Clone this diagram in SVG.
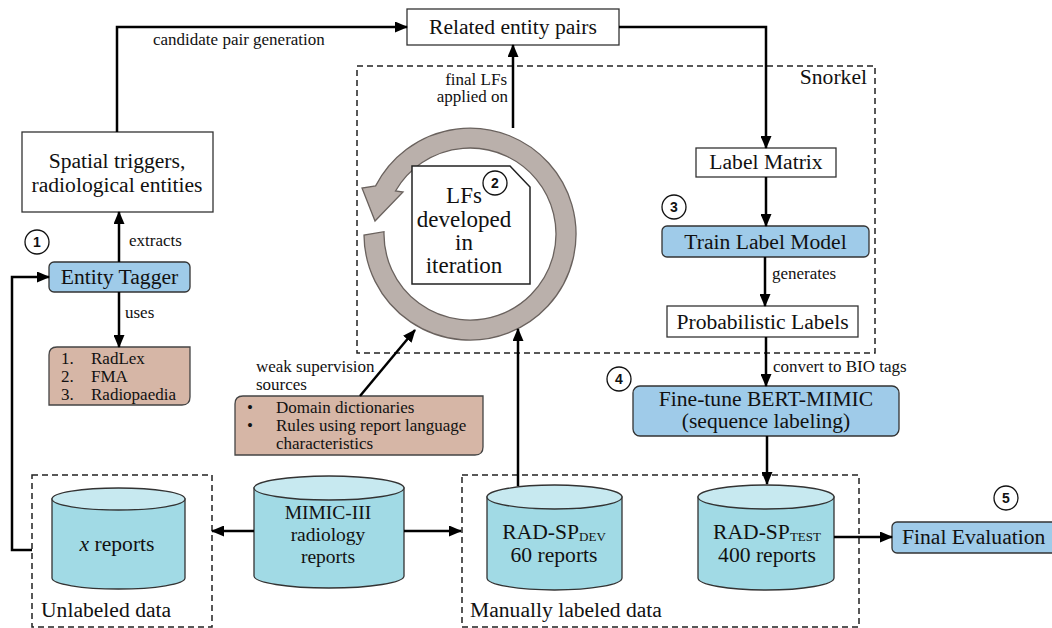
<svg xmlns="http://www.w3.org/2000/svg" width="1052" height="628" viewBox="0 0 1052 628">
<defs>
<marker id="ah" markerWidth="13" markerHeight="11" refX="12" refY="5.5" orient="auto" markerUnits="userSpaceOnUse">
<path d="M0,0 L13,5.5 L0,11 Z" fill="#000"/>
</marker>
<style>
text{font-family:"Liberation Serif","Times New Roman",serif;fill:#111}
.big{font-size:21.6px}
.sm{font-size:17px}
.mid{text-anchor:middle}
.box{fill:#fff;stroke:#333;stroke-width:1.3}
.blue{fill:#9fcbe9;stroke:#333;stroke-width:1.3}
.brown{fill:#d6b6a6;stroke:#444;stroke-width:1.3}
.dash{fill:none;stroke:#222;stroke-width:1.5;stroke-dasharray:6,4}
.cylb{fill:#a1dae5;stroke:#333;stroke-width:1.3}
.cylt{fill:#c7e9f0;stroke:#333;stroke-width:1.3}
.num{fill:#fff;stroke:#111;stroke-width:1.3}
.numt{font-family:"Liberation Sans",Arial,sans-serif;font-weight:bold;font-size:14px;text-anchor:middle}
.conn path{fill:none;stroke:#000;stroke-width:2.5;marker-end:url(#ah)}
</style>
</defs>
<rect width="1052" height="628" fill="#fff"/>

<g id="snorkel-group">
<rect class="dash" x="357" y="66" width="518" height="287"/>
<text class="big" x="867" y="84" text-anchor="end">Snorkel</text>
</g>
<g id="unlabeled-group">
<rect class="dash" x="32" y="475" width="180" height="152"/>
<text class="big" x="41" y="617">Unlabeled data</text>
</g>
<g id="manual-group">
<rect class="dash" x="462" y="475" width="397" height="152"/>
<text class="big" x="470" y="617">Manually labeled data</text>
</g>

<g id="related-pairs">
<rect class="box" x="407" y="9" width="212" height="36"/>
<text class="big mid" x="513" y="34">Related entity pairs</text>
</g>

<g id="spatial-triggers">
<rect class="box" x="22" y="132" width="191" height="80"/>
<text class="big mid" x="117" y="168">Spatial triggers,</text>
<text class="big mid" x="117" y="192">radiological entities</text>
</g>

<g id="entity-tagger">
<rect class="blue" x="49" y="262" width="141" height="30" rx="5"/>
<text class="big mid" x="119.5" y="284">Entity Tagger</text>
</g>

<g id="num1"><circle class="num" cx="37" cy="242" r="12"/><text class="numt" x="37" y="247">1</text></g>

<g id="lexicons">
<path class="brown" d="M57,347 H190 V397 Q190,405 182,405 H49 V355 Q49,347 57,347 Z"/>
<text class="sm" x="61" y="364">1.</text><text class="sm" x="91" y="364">RadLex</text>
<text class="sm" x="61" y="382">2.</text><text class="sm" x="91" y="382">FMA</text>
<text class="sm" x="61" y="400">3.</text><text class="sm" x="91" y="400">Radiopaedia</text>
</g>

<g id="weak-sources">
<path class="brown" d="M243,396 H483 V447 Q483,455 475,455 H235 V404 Q235,396 243,396 Z"/>
<text class="sm" x="247" y="413">•</text><text class="sm" x="276" y="413">Domain dictionaries</text>
<text class="sm" x="247" y="431">•</text><text class="sm" x="276" y="431">Rules using report language</text>
<text class="sm" x="276" y="449">characteristics</text>
</g>

<g id="lf-cycle">
<path d="M364,235 A106,106 0 1 0 375.6,185.9 L362,188 L375,221 L403,192 L395.5,191 A86,86 0 1 1 384,231.7 Z" fill="#bab0ab" stroke="#6a625e" stroke-width="1.3"/>
<path d="M412,166 H510 L530,187 V284 H412 Z" fill="#fff" stroke="#222" stroke-width="1.5"/>
<text class="mid" style="font-size:23px" x="464" y="203">LFs</text>
<text class="mid" style="font-size:23px" x="464" y="227">developed</text>
<text class="mid" style="font-size:23px" x="464" y="250">in</text>
<text class="mid" style="font-size:23px" x="464" y="273">iteration</text>
</g>
<g id="num2"><circle class="num" cx="495" cy="183" r="12"/><text class="numt" x="495" y="188">2</text></g>

<g id="label-matrix">
<rect class="box" x="696" y="148" width="140" height="29"/>
<text class="big mid" x="766" y="169">Label Matrix</text>
</g>

<g id="num3"><circle class="num" cx="674" cy="207" r="12"/><text class="numt" x="674" y="212">3</text></g>

<g id="train-label-model">
<rect class="blue" x="662" y="226" width="207" height="31" rx="5"/>
<text class="big mid" x="765.5" y="249">Train Label Model</text>
</g>

<g id="prob-labels">
<rect class="box" x="667" y="306" width="191" height="31"/>
<text class="big mid" x="762.5" y="329">Probabilistic Labels</text>
</g>

<g id="num4"><circle class="num" cx="619" cy="379" r="12"/><text class="numt" x="619" y="384">4</text></g>

<g id="bert">
<rect class="blue" x="633" y="386" width="266" height="50" rx="7"/>
<text class="big mid" x="766" y="406">Fine-tune BERT-MIMIC</text>
<text class="big mid" x="766" y="428">(sequence labeling)</text>
</g>

<g id="x-reports">
<path class="cylb" d="M52,499 V578 A66.5,11 0 0 0 185,578 V499 Z"/>
<ellipse class="cylt" cx="118.5" cy="499" rx="66.5" ry="11"/>
<text class="big mid" x="117" y="551"><tspan font-style="italic">x</tspan> reports</text>
</g>

<g id="mimic">
<path class="cylb" d="M254,488 V576 A75,12 0 0 0 404,576 V488 Z"/>
<ellipse class="cylt" cx="329" cy="488" rx="75" ry="12"/>
<text class="mid" style="font-size:19.5px" x="328" y="519">MIMIC-III</text>
<text class="mid" style="font-size:19.5px" x="328" y="541">radiology</text>
<text class="mid" style="font-size:19.5px" x="328" y="563">reports</text>
</g>

<g id="rad-dev">
<path class="cylb" d="M487,497 V578 A67.5,12 0 0 0 622,578 V497 Z"/>
<ellipse class="cylt" cx="554.5" cy="497" rx="67.5" ry="12"/>
<text class="big mid" x="554" y="539">RAD-SP<tspan style="font-size:13px" dy="2">DEV</tspan></text>
<text class="big mid" x="554" y="562">60 reports</text>
</g>

<g id="rad-test">
<path class="cylb" d="M698,497 V578 A68,12 0 0 0 834,578 V497 Z"/>
<ellipse class="cylt" cx="766" cy="497" rx="68" ry="12"/>
<text class="big mid" x="767" y="539">RAD-SP<tspan style="font-size:13px" dy="2">TEST</tspan></text>
<text class="big mid" x="767" y="562">400 reports</text>
</g>

<g id="num5"><circle class="num" cx="1006" cy="498" r="12"/><text class="numt" x="1006" y="503">5</text></g>

<g id="final-eval">
<rect class="blue" x="892" y="522" width="170" height="31" rx="5"/>
<text class="big" x="902" y="544">Final Evaluation</text>
</g>

<g id="connectors" class="conn">
<path d="M117,132 V27 H407"/>
<path d="M619,27 H766 V148"/>
<path d="M766,177 V226"/>
<path d="M765,257 V306"/>
<path d="M766,337 V386"/>
<path d="M767,436 V484"/>
<path d="M834,537 H892"/>
<path d="M518,486 V329"/>
<path d="M513,128 V45"/>
<path d="M360,396 L415,330"/>
<path d="M119,262 V212"/>
<path d="M119,292 V347"/>
<path d="M254,531 H212"/>
<path d="M404,531 H461"/>
<path d="M32,550 H12 V277 H49"/>
</g>
<g id="connector-labels">
<text class="sm" x="153" y="45">candidate pair generation</text>
<text class="sm" x="507" y="85" text-anchor="end">final LFs</text>
<text class="sm" x="508" y="102" text-anchor="end">applied on</text>
<text class="sm" x="129" y="246">extracts</text>
<text class="sm" x="125" y="318">uses</text>
<text class="sm" x="256" y="372">weak supervision</text>
<text class="sm" x="256" y="390">sources</text>
<text class="sm" x="772" y="279">generates</text>
<text class="sm" x="773" y="372">convert to BIO tags</text>
</g>
</svg>
